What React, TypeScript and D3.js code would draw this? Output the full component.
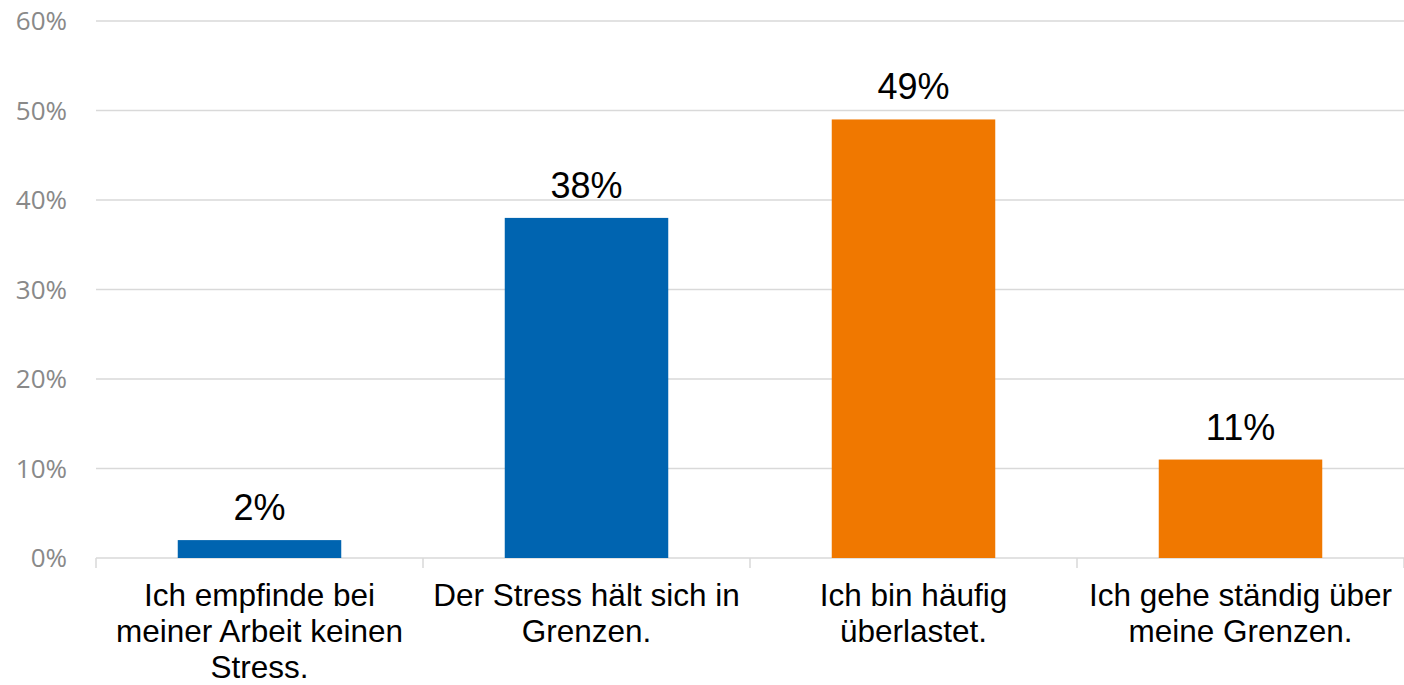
import React from "react";
import * as d3 from "d3";

const categories: string[][] = [
  ["Ich empfinde bei", "meiner Arbeit keinen", "Stress."],
  ["Der Stress hält sich in", "Grenzen."],
  ["Ich bin häufig", "überlastet."],
  ["Ich gehe ständig über", "meine Grenzen."],
];
const values: number[] = [2, 38, 49, 11];
const barColors: string[] = ["#0064B0", "#0064B0", "#F07800", "#F07800"];
const yTicks: number[] = [0, 10, 20, 30, 40, 50, 60];

const W = 1404;
const H = 685;
const left = 96;
const right = 1404;
const top = 21;
const bottom = 558;

export default function App() {
  const x = d3
    .scaleBand<number>()
    .domain(values.map((_, i) => i))
    .range([left, right])
    .paddingInner(0.5)
    .paddingOuter(0.25);
  const y = d3.scaleLinear().domain([0, 60]).range([bottom, top]);
  const step = x.step();
  const boundaries = d3.range(values.length + 1).map((i) => left + i * step);

  return (
    <svg
      width={W}
      height={H}
      style={{ position: "absolute", left: 0, top: 0, display: "block", background: "#fff" }}
    >
      {yTicks.map((t) => (
        <g key={t}>
          <line x1={left} x2={right} y1={y(t)} y2={y(t)} stroke="#d9d9d9" strokeWidth={1.5} />
          <text
            x={67}
            y={y(t)}
            dy="0.35em"
            textAnchor="end"
            fontFamily="'Open Sans', sans-serif"
            fontSize={26}
            fill="#898989"
          >
            {t}%
          </text>
        </g>
      ))}
      {boundaries.map((bx, i) => (
        <line key={i} x1={bx} x2={bx} y1={bottom} y2={bottom + 10} stroke="#d9d9d9" strokeWidth={1.5} />
      ))}
      {values.map((v, i) => (
        <g key={i}>
          <rect
            x={x(i)!}
            y={y(v)}
            width={x.bandwidth()}
            height={y(0) - y(v)}
            fill={barColors[i]}
          />
          <text
            x={x(i)! + x.bandwidth() / 2}
            y={y(v) - 20}
            textAnchor="middle"
            fontFamily="'Liberation Sans', Arial, sans-serif"
            fontSize={36}
            fill="#000"
          >
            {v}%
          </text>
        </g>
      ))}
      {categories.map((lines, i) => (
        <text
          key={i}
          x={x(i)! + x.bandwidth() / 2}
          y={606}
          textAnchor="middle"
          fontFamily="'Liberation Sans', Arial, sans-serif"
          fontSize={31.5}
          fill="#000"
        >
          {lines.map((l, j) => (
            <tspan key={j} x={x(i)! + x.bandwidth() / 2} y={606 + j * 36}>
              {l}
            </tspan>
          ))}
        </text>
      ))}
    </svg>
  );
}
